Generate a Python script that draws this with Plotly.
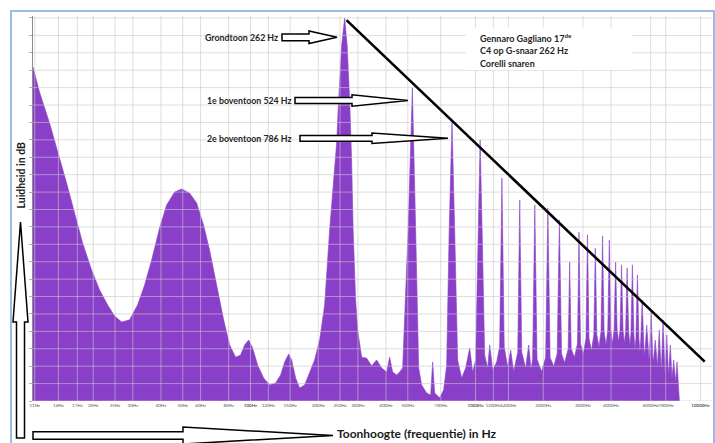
import math
import plotly.graph_objects as go

# ---------------- data ----------------
# broadband part below the fundamental (Hz, dB)
low_hz = [10.8, 11.55, 12.8, 14.18, 15.23, 16.53, 17.94, 19.67, 21.35, 23.18, 24.89, 26.75,
          29.02, 31.49, 33.84, 36.36, 39.45, 42.39, 45.99, 49.42, 53.65, 57.61, 61.88, 65.81,
          70.68, 75.95, 80.75, 85.89, 90.36, 94.16, 98.1, 102.2, 107.6, 114.4, 121.6, 129.3,
          136.1, 141.8, 147.7, 152.3, 158.7, 165.3, 174.0, 183.1, 192.7, 202.9, 213.5, 224.7,
          234.1, 241.4, 246.4, 254.1]
low_db = [95.9, 88.7, 79.8, 70.1, 62.6, 54.0, 45.4, 37.6, 31.9, 27.6, 24.4, 22.7,
          23.3, 27.6, 33.3, 40.5, 49.7, 56.3, 60.0, 60.9, 59.7, 56.9, 50.5, 43.3,
          33.3, 23.3, 16.1, 12.6, 13.2, 16.1, 17.5, 15.2, 10.3, 6.6, 4.6, 5.2,
          7.5, 11.2, 13.5, 11.8, 6.6, 3.7, 4.6, 8.3, 11.8, 17.5, 27.6, 49.1,
          63.5, 74.1, 86.4, 102.2]

# broadband floor and flanks of the partials above the fundamental (Hz, dB)
broad_hz = [268.8, 275.8, 281.4, 285.8, 293.2, 299.3, 311.8, 328.2, 345.4, 363.5, 382.6, 402.7,
            415.2, 428.2, 446.1, 460.0, 474.3, 501.8, 541.9, 558.9, 576.1, 606.3, 631.7, 644.9,
            658.1, 692.7, 721.6, 744.1, 763.5, 807.8, 832.7, 867.5, 904.1, 941.6, 971.0, 1001.1,
            1025, 1072, 1097.8, 1132.1, 1155.7, 1191.6, 1241.4, 1279.6, 1341, 1389.1, 1432.4, 1477.4,
            1540, 1604, 1670, 1722, 1765, 1793, 1876, 1965, 2049, 2144, 2227, 2305,
            2412, 2489, 2580, 2661, 2751, 2838, 2927, 3013, 3096, 3193, 3275, 3354,
            3459, 3537, 3612, 3725, 3799, 3870, 3991, 4061, 4128, 4257, 4323, 4386,
            4523, 4585, 4644, 4789, 4847, 4902, 5055, 5109, 5160, 5321, 5371, 5418,
            5587, 5633, 5676, 5853, 5895, 5934, 6119, 6157, 6192, 6385, 6419, 6450,
            6652, 6681, 6708, 6918, 6943, 6966, 7184, 7205, 7224, 7450, 7467, 7482,
            7716, 7729, 7740, 7982, 8050]
broad_db = [102.2, 86.4, 69.2, 49.1, 29.0, 20.4, 12.6, 12.3, 10.1, 11.8, 9.5, 8.3,
            12.6, 8.3, 7.5, 8.3, 9.5, 49.1, 49.1, 9.5, 4.6, 2.3, 1.7, 11.2,
            2.3, 0.9, 3.2, 10.3, 49.1, 49.1, 11.8, 6.6, 9.5, 15.2, 8.3, 11.8,
            46.2, 46.2, 13.2, 9.5, 16.1, 8.9, 11.2, 15.5, 15.5, 9.8, 14.6, 8.5,
            14.0, 14.0, 9.5, 16.1, 9.0, 12.0, 12.0, 8.5, 12.5, 12.5, 10.0, 13.5,
            13.5, 11.0, 15.0, 15.0, 12.5, 16.5, 16.5, 13.5, 18.0, 18.0, 14.5, 19.0,
            19.0, 15.5, 20.0, 20.0, 16.0, 20.5, 20.5, 16.5, 20.5, 20.5, 17.0, 20.5,
            20.5, 16.5, 20.0, 20.0, 16.0, 19.0, 19.0, 15.0, 18.0, 18.0, 14.0, 17.0,
            17.0, 13.0, 15.5, 15.5, 12.0, 14.0, 14.0, 11.0, 12.5, 12.5, 10.0, 11.5,
            11.5, 9.0, 10.5, 10.5, 8.0, 9.5, 9.5, 7.5, 8.5, 8.5, 6.5, 7.5,
            7.5, 5.5, 5.5, 4.0, 0.0]

# fundamental and partials (Hz, dB)
harm_hz = [262, 524, 786, 1048, 1310, 1572, 1834, 2096, 2358, 2620, 2882, 3144, 3406, 3668, 3930,
           4192, 4454, 4716, 4978, 5240, 5502, 5764, 6026, 6288, 6550, 6812, 7074, 7336, 7598, 7860]
harm_db = [110.0, 89.9, 80.1, 75.0, 64.0, 57.7, 56.3, 55.4, 52.0, 39.9, 48.5, 47.7, 43.9, 47.4, 46.2,
           39.9, 39.1, 38.2, 39.1, 36.2, 29.0, 21.8, 26.1, 17.5, 20.4, 23.3, 19.0, 16.1, 11.8, 11.2]

# straight decay line drawn over the partials
line_hz = [267, 10430]
line_db = [109.4, 11.3]

# x-axis ticks
tick_hz = [11, 14, 17, 20, 25, 30, 40, 50, 60, 80, 100, 120, 150, 200, 250, 300, 400, 500, 700,
           1000, 1200, 1400, 2000, 3000, 4000, 6000, 7000, 10000]
tick_text = ["11Hz", "14Hz", "17Hz", "20Hz", "25Hz", "30Hz", "40Hz", "50Hz", "60Hz", "80Hz",
             "<b>100Hz</b>", "120Hz", "150Hz", "200Hz", "250Hz", "300Hz", "400Hz", "500Hz", "700Hz",
             "<b>1000Hz</b>", "1200Hz", "1400Hz", "2000Hz", "3000Hz", "4000Hz", "6000Hz", "7000Hz",
             "<b>10000Hz</b>"]
level_grid = list(range(0, 111, 5))

# ---------------- layout geometry ----------------
W, H = 715, 443
L, R, T, B = 33, 712, 16, 401
X_MIN, X_MAX = 10.8, 11240
Y_MAX = 110.57
PURPLE = "#8a3fc8"
FONT = "Lato"


def px(x):
    return (x - L) / (R - L)


def py(y):
    return (B - y) / (B - T)


pts = sorted(zip(low_hz + broad_hz + harm_hz, low_db + broad_db + harm_db))
spec_hz = [p[0] for p in pts]
spec_db = [p[1] for p in pts]

fig = go.Figure()
fig.add_trace(go.Scatter(x=spec_hz, y=spec_db, mode="lines", fill="tozeroy",
                         line=dict(color=PURPLE, width=0.6), fillcolor=PURPLE,
                         hoverinfo="skip", showlegend=False))

# grid drawn over the fill (as in the original picture)
gx, gy = [], []
for f in tick_hz:
    gx += [f, f, None]
    gy += [0, Y_MAX, None]
for v in level_grid:
    gx += [X_MIN, X_MAX, None]
    gy += [v, v, None]
fig.add_trace(go.Scatter(x=gx, y=gy, mode="lines", line=dict(color="rgba(200,200,200,0.6)", width=1),
                         hoverinfo="skip", showlegend=False))

fig.add_trace(go.Scatter(x=line_hz, y=line_db, mode="lines", line=dict(color="black", width=2.6),
                         hoverinfo="skip", showlegend=False))


def harrow(x0, xh, x1, yc, h1, h2):
    p = [(x0, yc - h1), (xh, yc - h1), (xh, yc - h2), (x1, yc), (xh, yc + h2), (xh, yc + h1), (x0, yc + h1)]
    path = "M " + " L ".join(f"{px(a):.5f},{py(b):.5f}" for a, b in p) + " Z"
    fig.add_shape(type="path", path=path, xref="paper", yref="paper",
                  line=dict(color="black", width=1.5), fillcolor="white", layer="above")


def varrow(xc, ytip, yh, y0, w1, w2):
    p = [(xc - w1, y0), (xc - w1, yh), (xc - w2, yh), (xc, ytip), (xc + w2, yh), (xc + w1, yh), (xc + w1, y0)]
    path = "M " + " L ".join(f"{px(a):.5f},{py(b):.5f}" for a, b in p) + " Z"
    fig.add_shape(type="path", path=path, xref="paper", yref="paper",
                  line=dict(color="black", width=1.5), fillcolor="white", layer="above")


def label(text, x, y, size=7.5, anchor="left", angle=0, color="#262626"):
    fig.add_annotation(x=px(x), y=py(y), xref="paper", yref="paper", text=text, showarrow=False,
                       xanchor=anchor, yanchor="middle", textangle=angle,
                       font=dict(family=FONT, size=size, color=color))


# outer blue frame
fig.add_shape(type="rect", xref="paper", yref="paper", x0=px(11), x1=px(714), y0=py(446), y1=py(11),
              line=dict(color="#7ba7dc", width=1.5), fillcolor="rgba(0,0,0,0)", layer="above")

# white text box top right
fig.add_shape(type="rect", xref="paper", yref="paper", x0=px(466), x1=px(632), y0=py(70), y1=py(28),
              line=dict(width=0), fillcolor="white", layer="above")
label("<b>Gennaro Gagliano 17<sup>de</sup></b>", 478, 38, size=9)
label("<b>C4 op G-snaar 262 Hz</b>", 478, 50.5, size=9)
label("<b>Corelli snaren</b>", 478, 63, size=9)

# callouts
label("<b>Grondtoon 262 Hz</b>", 203, 37, size=8.8)
harrow(282, 309, 337, 37.3, 3.4, 6.3)
label("<b>1e boventoon 524 Hz</b>", 205, 100.5, size=8.8)
harrow(295, 352, 408, 100.5, 2.9, 5.7)
label("<b>2e boventoon 786 Hz</b>", 205, 138.3, size=8.8)
harrow(300, 372, 448, 138.3, 2.9, 5.2)

# axis arrows and titles
varrow(20.5, 222, 322, 438, 4, 7.5)
label("<b>Luidheid in dB</b>", 20.5, 175, size=10.5, anchor="center", angle=-90, color="#1a1a1a")
harrow(33, 183, 333, 435.5, 3.8, 8.5)
label("<b>Toonhoogte (frequentie) in Hz</b>", 335, 433, size=12, color="#1a1a1a")

fig.update_xaxes(type="log", range=[math.log10(X_MIN), math.log10(X_MAX)], showgrid=False,
                 zeroline=False, tickmode="array", tickvals=tick_hz, ticktext=tick_text,
                 tickfont=dict(family=FONT, size=4.5, color="#555555"), ticks="", ticklen=0,
                 tickangle=0, showline=False, automargin=False)
fig.update_yaxes(range=[0, Y_MAX], showgrid=False, zeroline=False, showticklabels=False,
                 tickmode="array", tickvals=level_grid, ticks="outside", ticklen=3,
                 tickcolor="#b0b0b0", showline=True, linecolor="#8c8c8c", linewidth=1,
                 automargin=False)

fig.update_layout(width=W, height=H, margin=dict(l=L, r=W - R, t=T, b=H - B, autoexpand=False),
                  paper_bgcolor="white", plot_bgcolor="white", showlegend=False,
                  font=dict(family=FONT))

fig.write_html("out.html", post_script="document.body.style.margin='0';",
               config={"displayModeBar": False})
